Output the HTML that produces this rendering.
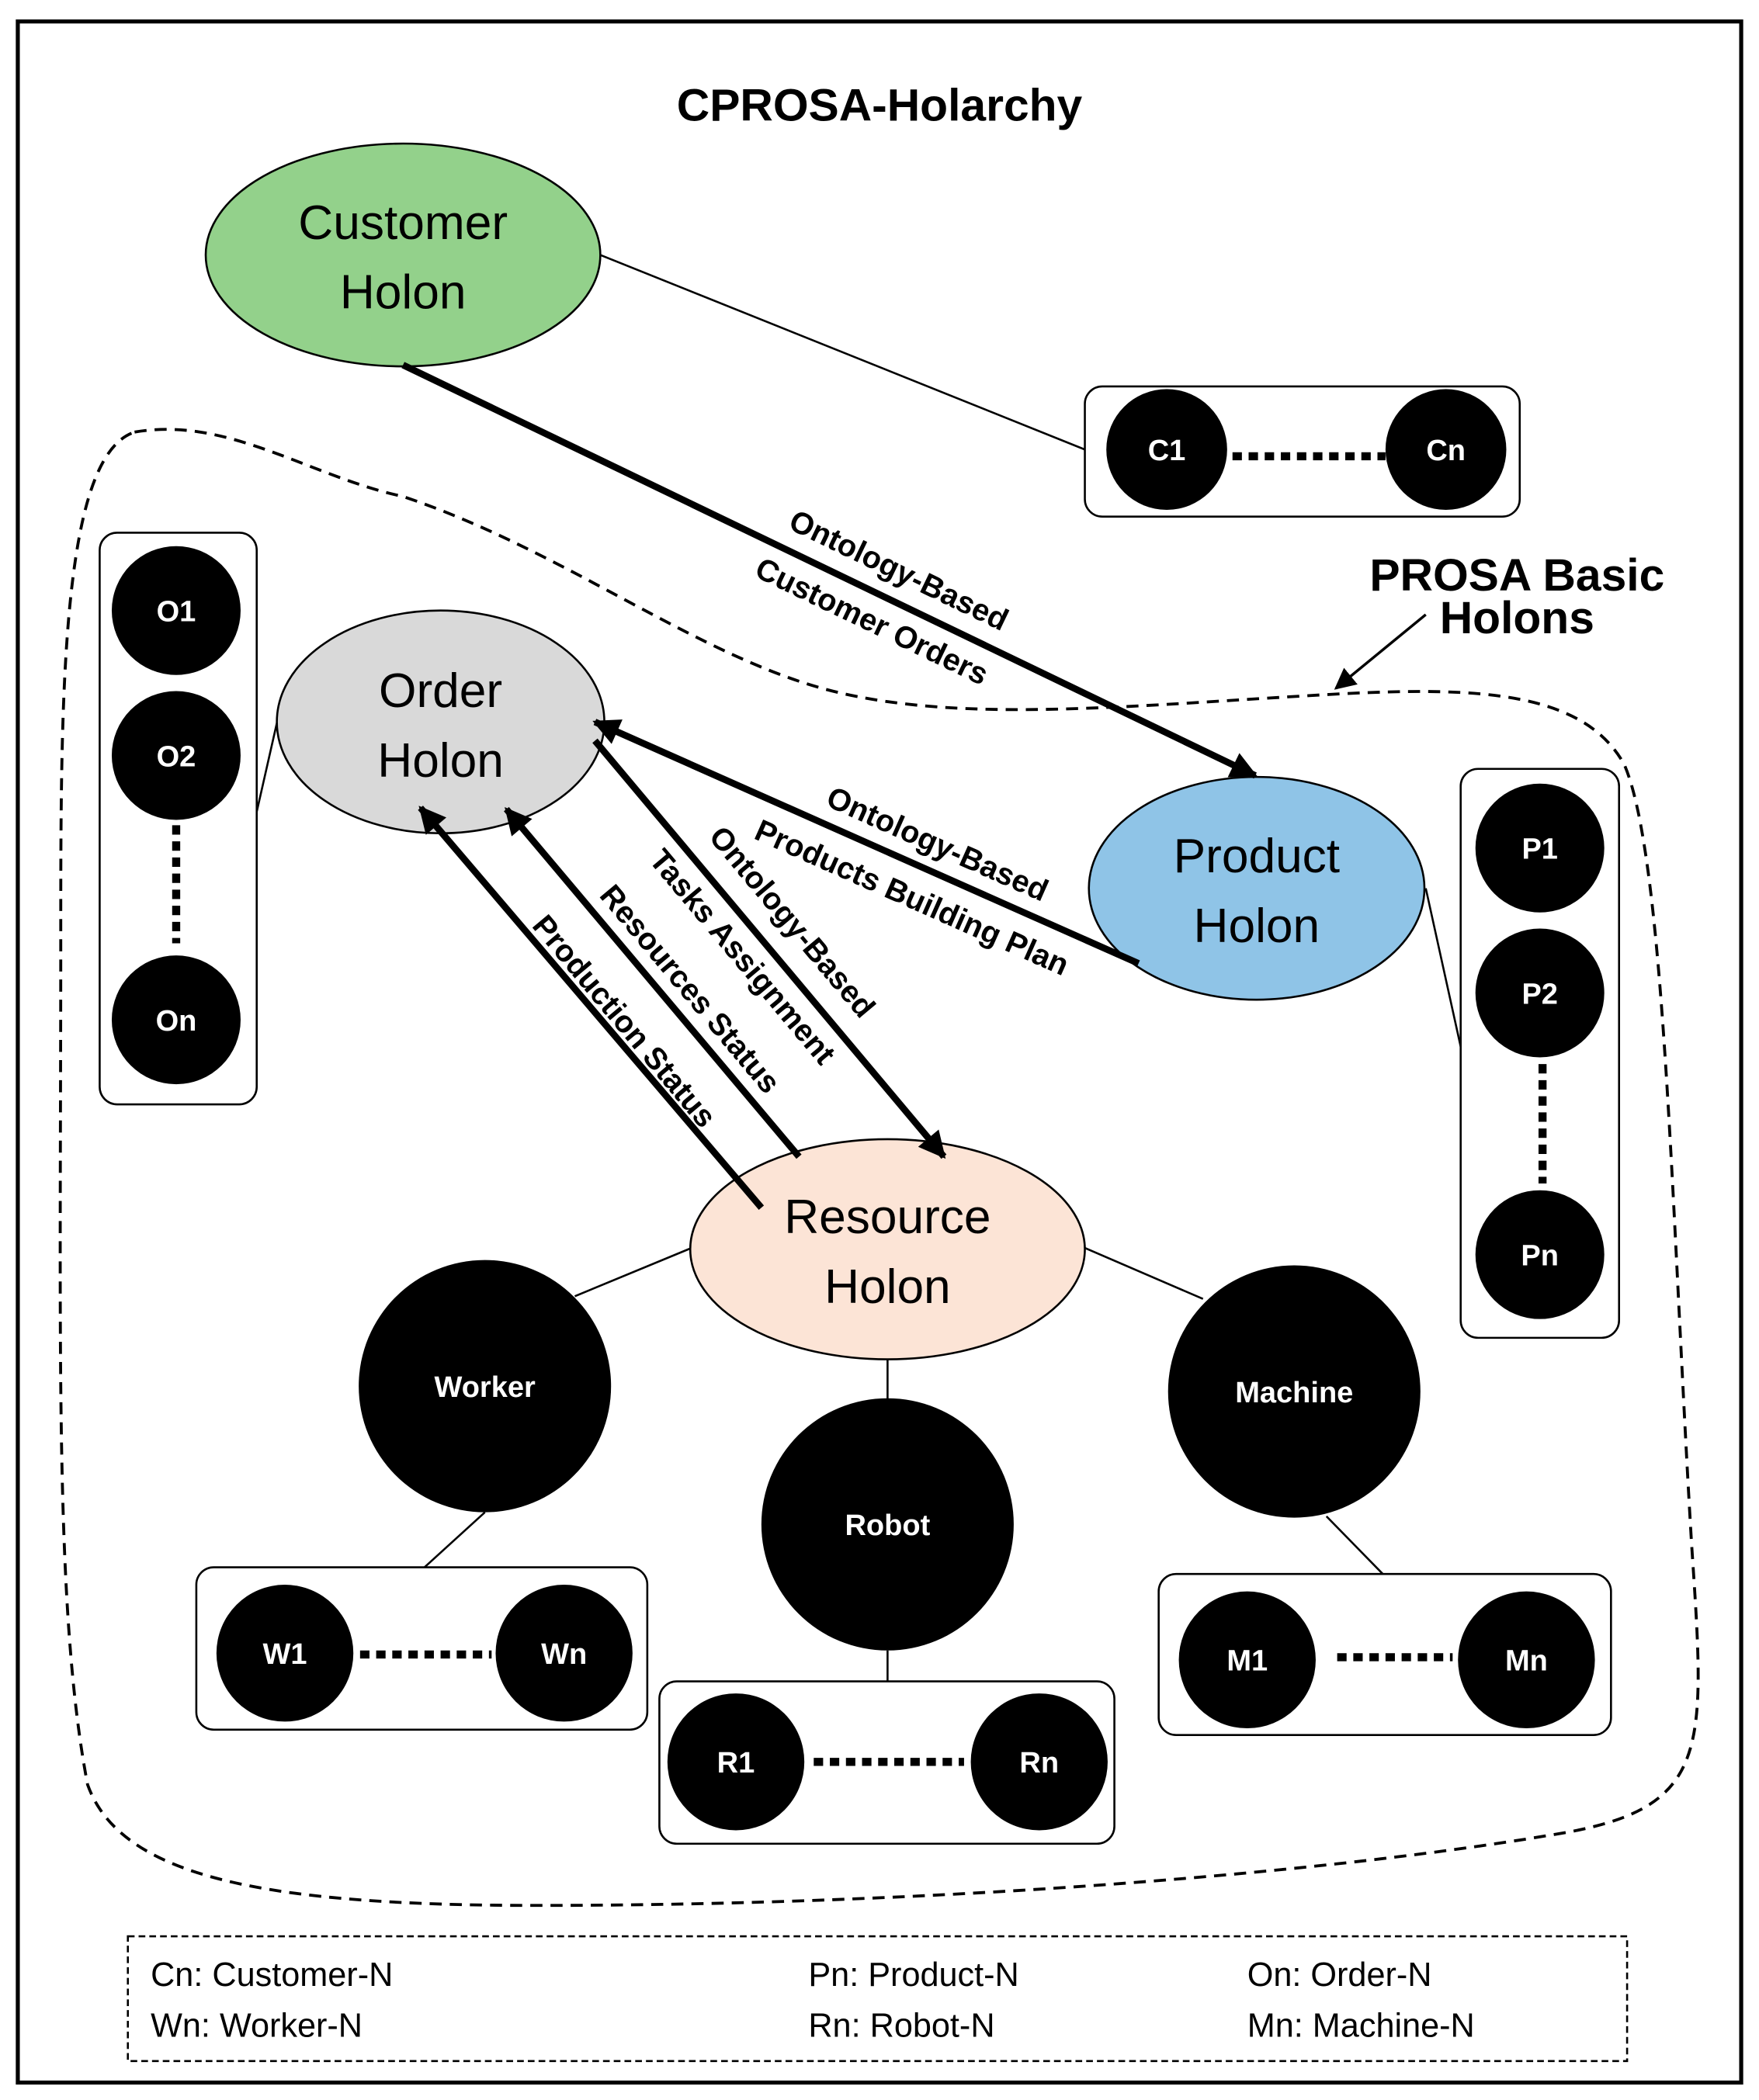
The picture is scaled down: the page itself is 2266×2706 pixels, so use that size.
<!DOCTYPE html>
<html><head><meta charset="utf-8"><style>html,body{margin:0;padding:0;background:#fff}svg{display:block}</style></head>
<body>
<svg width="2266" height="2706" viewBox="0 0 1310 1565" xmlns="http://www.w3.org/2000/svg" font-family="Liberation Sans, sans-serif">
<defs>
<marker id="ah" viewBox="0 0 10 10" refX="9" refY="5" markerWidth="4.5" markerHeight="4" orient="auto-start-reverse" markerUnits="strokeWidth"><path d="M0,0 L10,5 L0,10 z" fill="#000"/></marker>
<marker id="ah2" viewBox="0 0 10 10" refX="9" refY="5" markerWidth="8" markerHeight="8" orient="auto" markerUnits="strokeWidth"><path d="M0,0 L10,5 L0,10 z" fill="#000"/></marker>
</defs>
<rect x="0" y="0" width="1310" height="1565" fill="#fff"/>
<rect x="13" y="16" width="1284" height="1536" fill="none" stroke="#000" stroke-width="3"/>
<text x="655" y="90" font-size="34" font-weight="bold" text-anchor="middle">CPROSA-Holarchy</text>

<path d="M100,322 C170,310 230,355 300,370 C420,410 520,490 620,515 C720,540 850,525 1000,517 C1100,512 1180,515 1210,570 C1240,640 1245,900 1260,1150 C1270,1300 1275,1345 1170,1365 C1000,1395 700,1420 400,1420 C200,1420 90,1400 65,1330 C40,1200 45,1000 45,700 C45,520 45,340 100,322 Z" fill="none" stroke="#000" stroke-width="2.2" stroke-dasharray="9,6"/>

<line x1="447" y1="190" x2="808" y2="335" stroke="#000" stroke-width="1.5"/>
<line x1="191" y1="605" x2="208" y2="530" stroke="#000" stroke-width="1.5"/>
<line x1="1062" y1="662" x2="1088" y2="780" stroke="#000" stroke-width="1.5"/>
<line x1="515" y1="930" x2="428" y2="966" stroke="#000" stroke-width="1.5"/>
<line x1="661" y1="1013" x2="661" y2="1043" stroke="#000" stroke-width="1.5"/>
<line x1="808" y1="930" x2="896" y2="968" stroke="#000" stroke-width="1.5"/>
<line x1="361" y1="1127" x2="316" y2="1168" stroke="#000" stroke-width="1.5"/>
<line x1="661" y1="1230" x2="661" y2="1253" stroke="#000" stroke-width="1.5"/>
<line x1="988" y1="1130" x2="1030" y2="1173" stroke="#000" stroke-width="1.5"/>

<ellipse cx="300" cy="190" rx="147" ry="83" fill="#93d18b" stroke="#000" stroke-width="1.5"/>
<text x="300" y="178" font-size="36" text-anchor="middle">Customer</text>
<text x="300" y="230" font-size="36" text-anchor="middle">Holon</text>
<ellipse cx="328" cy="538" rx="122" ry="83" fill="#d9d9d9" stroke="#000" stroke-width="1.5"/>
<text x="328" y="527" font-size="36" text-anchor="middle">Order</text>
<text x="328" y="579" font-size="36" text-anchor="middle">Holon</text>
<ellipse cx="936" cy="662" rx="125" ry="83" fill="#8fc4e7" stroke="#000" stroke-width="1.5"/>
<text x="936" y="650" font-size="36" text-anchor="middle">Product</text>
<text x="936" y="702" font-size="36" text-anchor="middle">Holon</text>
<ellipse cx="661" cy="931" rx="147" ry="82" fill="#fce4d6" stroke="#000" stroke-width="1.5"/>
<text x="661" y="919" font-size="36" text-anchor="middle">Resource</text>
<text x="661" y="971" font-size="36" text-anchor="middle">Holon</text>

<g stroke="#000" stroke-width="5" fill="none">
<line x1="300" y1="272" x2="935" y2="578" marker-end="url(#ah)"/>
<line x1="848" y1="718" x2="443" y2="538" marker-end="url(#ah)"/>
<line x1="443" y1="552" x2="703" y2="862" marker-end="url(#ah)"/>
<line x1="595" y1="862" x2="377" y2="603" marker-end="url(#ah)"/>
<line x1="567" y1="900" x2="313" y2="602" marker-end="url(#ah)"/>
</g>
<g font-size="23" font-weight="bold" text-anchor="middle">
<text transform="translate(666,432) rotate(25.7)">Ontology-Based</text>
<text transform="translate(646,470) rotate(25.7)">Customer Orders</text>
<text transform="translate(695,636) rotate(24)">Ontology-Based</text>
<text transform="translate(676,676) rotate(24)">Products Building Plan</text>
<text transform="translate(584,692) rotate(50)">Ontology-Based</text>
<text transform="translate(547,718) rotate(50)">Tasks Assignment</text>
<text transform="translate(508,742) rotate(50)">Resources Status</text>
<text transform="translate(459,766) rotate(50)">Production Status</text>
</g>

<text x="1130" y="440" font-size="34" font-weight="bold" text-anchor="middle">PROSA Basic</text>
<text x="1130" y="472" font-size="34" font-weight="bold" text-anchor="middle">Holons</text>
<line x1="1062" y1="458" x2="995" y2="513" stroke="#000" stroke-width="2" marker-end="url(#ah2)"/>

<g fill="#fff" stroke="#000" stroke-width="1.5">
<rect x="808" y="288" width="324" height="97" rx="13"/>
<rect x="74" y="397" width="117" height="426" rx="13"/>
<rect x="1088" y="573" width="118" height="424" rx="13"/>
<rect x="146" y="1168" width="336" height="121" rx="13"/>
<rect x="491" y="1253" width="339" height="121" rx="13"/>
<rect x="863" y="1173" width="337" height="120" rx="13"/>
</g>
<g stroke="#000" stroke-width="6" stroke-dasharray="7,5">
<line x1="918" y1="340" x2="1032" y2="340"/>
<line x1="131" y1="615" x2="131" y2="703"/>
<line x1="1149" y1="793" x2="1149" y2="882"/>
<line x1="268" y1="1233" x2="366" y2="1233"/>
<line x1="606" y1="1313" x2="718" y2="1313"/>
<line x1="996" y1="1235" x2="1082" y2="1235"/>
</g>
<g fill="#000">
<circle cx="869" cy="335" r="45"/><circle cx="1077" cy="335" r="45"/>
<circle cx="131" cy="455" r="48"/><circle cx="131" cy="563" r="48"/><circle cx="131" cy="760" r="48"/>
<circle cx="1147" cy="632" r="48"/><circle cx="1147" cy="740" r="48"/><circle cx="1147" cy="935" r="48"/>
<circle cx="361" cy="1033" r="94"/><circle cx="661" cy="1136" r="94"/><circle cx="964" cy="1037" r="94"/>
<circle cx="212" cy="1232" r="51"/><circle cx="420" cy="1232" r="51"/>
<circle cx="548" cy="1313" r="51"/><circle cx="774" cy="1313" r="51"/>
<circle cx="929" cy="1237" r="51"/><circle cx="1137" cy="1237" r="51"/>
</g>
<g fill="#fff" font-size="22" font-weight="bold" text-anchor="middle">
<text x="869" y="343">C1</text><text x="1077" y="343">Cn</text>
<text x="131" y="463">O1</text><text x="131" y="571">O2</text><text x="131" y="768">On</text>
<text x="1147" y="640">P1</text><text x="1147" y="748">P2</text><text x="1147" y="943">Pn</text>
<text x="361" y="1041">Worker</text><text x="661" y="1144">Robot</text><text x="964" y="1045">Machine</text>
<text x="212" y="1240">W1</text><text x="420" y="1240">Wn</text>
<text x="548" y="1321">R1</text><text x="774" y="1321">Rn</text>
<text x="929" y="1245">M1</text><text x="1137" y="1245">Mn</text>
</g>

<rect x="95" y="1443" width="1117" height="93" fill="none" stroke="#000" stroke-width="1.5" stroke-dasharray="5,3"/>
<g font-size="25">
<text x="112" y="1480">Cn: Customer-N</text><text x="112" y="1518">Wn: Worker-N</text>
<text x="602" y="1480">Pn: Product-N</text><text x="602" y="1518">Rn: Robot-N</text>
<text x="929" y="1480">On: Order-N</text><text x="929" y="1518">Mn: Machine-N</text>
</g>
</svg>
</body></html>
